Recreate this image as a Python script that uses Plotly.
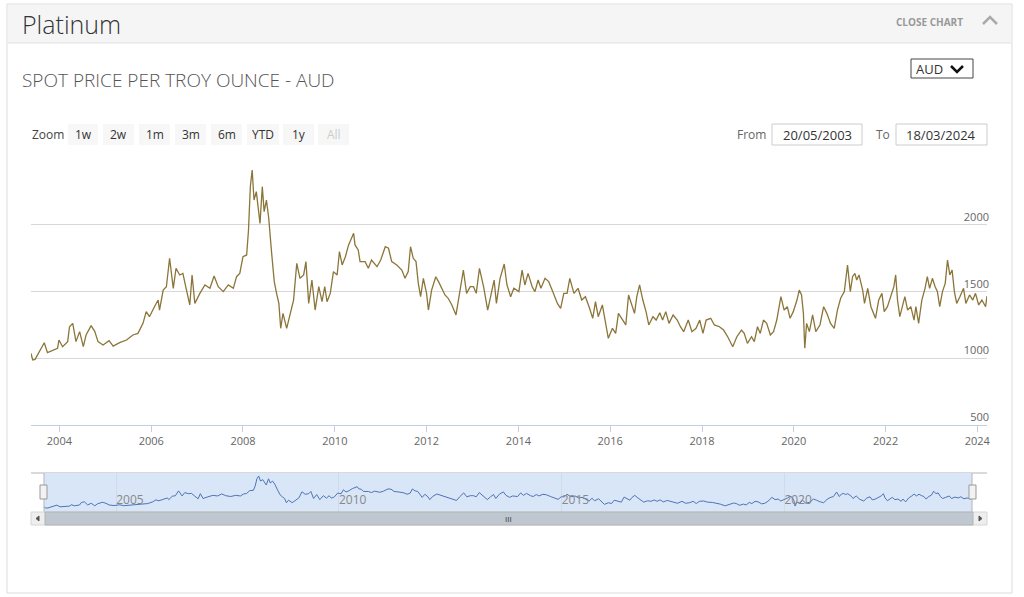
import pandas as pd
import plotly.graph_objects as go

W, H = 1024, 597

# spot price, AUD per troy ounce (decimal year, price)
years = [
    2003.38, 2003.42, 2003.47, 2003.56, 2003.67, 2003.74, 2003.86, 2003.96, 2003.99, 2004.07,
    2004.18, 2004.22, 2004.29, 2004.36, 2004.44, 2004.52, 2004.58, 2004.69, 2004.77, 2004.84,
    2004.95, 2005.08, 2005.17, 2005.31, 2005.46, 2005.60, 2005.71, 2005.82, 2005.89, 2005.96,
    2006.07, 2006.15, 2006.18, 2006.26, 2006.33, 2006.40, 2006.48, 2006.54, 2006.62, 2006.69,
    2006.76, 2006.84, 2006.89, 2006.95, 2007.06, 2007.17, 2007.28, 2007.37, 2007.46, 2007.57,
    2007.68, 2007.79, 2007.86, 2007.93, 2008.00, 2008.08, 2008.12, 2008.16, 2008.20, 2008.24,
    2008.29, 2008.37, 2008.42, 2008.46, 2008.51, 2008.56, 2008.62, 2008.68, 2008.73, 2008.78,
    2008.82, 2008.87, 2008.95, 2009.02, 2009.10, 2009.17, 2009.24, 2009.32, 2009.37, 2009.43,
    2009.50, 2009.57, 2009.65, 2009.72, 2009.78, 2009.83, 2009.90, 2009.97, 2010.05, 2010.10,
    2010.16, 2010.23, 2010.30, 2010.41, 2010.44, 2010.51, 2010.55, 2010.66, 2010.73, 2010.80,
    2010.92, 2011.00, 2011.10, 2011.17, 2011.24, 2011.35, 2011.46, 2011.53, 2011.60, 2011.65,
    2011.71, 2011.77, 2011.82, 2011.87, 2011.93, 2012.00, 2012.04, 2012.11, 2012.20, 2012.26,
    2012.33, 2012.40, 2012.47, 2012.55, 2012.64, 2012.71, 2012.80, 2012.87, 2012.95, 2013.02,
    2013.08, 2013.15, 2013.24, 2013.33, 2013.40, 2013.47, 2013.52, 2013.60, 2013.69, 2013.75,
    2013.83, 2013.90, 2014.01, 2014.08, 2014.14, 2014.21, 2014.30, 2014.36, 2014.43, 2014.49,
    2014.58, 2014.66, 2014.75, 2014.85, 2014.92, 2014.99, 2015.06, 2015.12, 2015.21, 2015.30,
    2015.38, 2015.46, 2015.54, 2015.62, 2015.68, 2015.74, 2015.83, 2015.89, 2015.96, 2016.05,
    2016.12, 2016.18, 2016.27, 2016.34, 2016.40, 2016.48, 2016.53, 2016.58, 2016.64, 2016.71,
    2016.78, 2016.84, 2016.93, 2017.00, 2017.08, 2017.14, 2017.21, 2017.28, 2017.37, 2017.46,
    2017.53, 2017.60, 2017.70, 2017.78, 2017.87, 2017.95, 2018.02, 2018.09, 2018.19, 2018.27,
    2018.38, 2018.47, 2018.56, 2018.67, 2018.76, 2018.86, 2018.92, 2018.99, 2019.08, 2019.14,
    2019.21, 2019.27, 2019.34, 2019.41, 2019.49, 2019.56, 2019.63, 2019.72, 2019.79, 2019.86,
    2019.92, 2019.99, 2020.07, 2020.12, 2020.17, 2020.21, 2020.24, 2020.28, 2020.34, 2020.41,
    2020.48, 2020.57, 2020.65, 2020.72, 2020.80, 2020.88, 2020.95, 2021.02, 2021.10, 2021.17,
    2021.23, 2021.28, 2021.33, 2021.37, 2021.42, 2021.50, 2021.54, 2021.61, 2021.68, 2021.78,
    2021.85, 2021.92, 2021.97, 2022.04, 2022.13, 2022.18, 2022.22, 2022.26, 2022.31, 2022.37,
    2022.42, 2022.48, 2022.55, 2022.62, 2022.66, 2022.72, 2022.79, 2022.86, 2022.91, 2022.96,
    2023.02, 2023.08, 2023.13, 2023.18, 2023.24, 2023.30, 2023.35, 2023.40, 2023.45, 2023.50,
    2023.55, 2023.62, 2023.70, 2023.75, 2023.83, 2023.90, 2023.96, 2024.03, 2024.10, 2024.18,
    2024.21,
]
price = [
    1037, 987, 992, 1050, 1117, 1042, 1062, 1075, 1137, 1087,
    1125, 1237, 1262, 1125, 1200, 1087, 1175, 1245, 1200, 1125,
    1100, 1132, 1092, 1117, 1137, 1175, 1187, 1262, 1350, 1312,
    1387, 1437, 1362, 1512, 1537, 1750, 1525, 1675, 1625, 1637,
    1525, 1400, 1625, 1412, 1487, 1550, 1525, 1617, 1537, 1500,
    1550, 1525, 1612, 1637, 1762, 1775, 1962, 2287, 2412, 2187,
    2250, 2012, 2287, 2100, 2187, 2050, 1800, 1575, 1487, 1412,
    1225, 1337, 1225, 1325, 1437, 1712, 1600, 1625, 1725, 1412,
    1587, 1362, 1537, 1425, 1537, 1425, 1487, 1650, 1625, 1800,
    1700, 1762, 1850, 1937, 1850, 1812, 1725, 1725, 1675, 1737,
    1687, 1737, 1837, 1825, 1725, 1700, 1662, 1600, 1650, 1837,
    1750, 1725, 1562, 1462, 1600, 1487, 1362, 1512, 1612, 1575,
    1525, 1475, 1450, 1400, 1325, 1487, 1662, 1487, 1537, 1537,
    1487, 1675, 1537, 1362, 1487, 1587, 1412, 1600, 1707, 1550,
    1462, 1525, 1500, 1662, 1550, 1637, 1537, 1500, 1587, 1525,
    1600, 1575, 1500, 1412, 1375, 1487, 1487, 1600, 1487, 1525,
    1437, 1462, 1387, 1300, 1425, 1312, 1400, 1287, 1150, 1225,
    1187, 1337, 1287, 1250, 1475, 1387, 1337, 1462, 1550, 1437,
    1350, 1250, 1312, 1287, 1342, 1287, 1350, 1262, 1325, 1287,
    1237, 1200, 1287, 1200, 1225, 1287, 1187, 1287, 1300, 1250,
    1237, 1212, 1162, 1087, 1162, 1212, 1187, 1112, 1162, 1125,
    1237, 1187, 1287, 1262, 1175, 1200, 1287, 1462, 1362, 1387,
    1300, 1350, 1437, 1512, 1475, 1337, 1075, 1262, 1200, 1325,
    1200, 1250, 1387, 1337, 1262, 1225, 1362, 1450, 1500, 1700,
    1500, 1612, 1637, 1587, 1625, 1512, 1412, 1525, 1387, 1300,
    1437, 1487, 1350, 1387, 1487, 1537, 1625, 1437, 1312, 1400,
    1462, 1362, 1387, 1287, 1387, 1262, 1437, 1525, 1612, 1525,
    1600, 1537, 1500, 1387, 1500, 1562, 1737, 1625, 1662, 1500,
    1412, 1462, 1525, 1412, 1475, 1437, 1487, 1400, 1437, 1387,
    1467,
]

start_date = "2003-05-20"
end_date = "2024-03-18"
zoom_buttons = ["1w", "2w", "1m", "3m", "6m", "YTD", "1y", "All"]


def to_date(y):
    yr = int(y)
    base = pd.Timestamp(year=yr, month=1, day=1)
    days = (pd.Timestamp(year=yr + 1, month=1, day=1) - base).days
    return base + pd.Timedelta(days=(y - yr) * days)


dates = [to_date(y) for y in years]


def px(x):
    return x / W


def py(y):
    return 1 - y / H


def rect(x0, y0, x1, y1, fill=None, line=None, lw=1, layer="below"):
    return dict(type="rect", xref="paper", yref="paper",
                x0=px(x0), x1=px(x1), y0=py(y1), y1=py(y0),
                fillcolor=fill or "rgba(0,0,0,0)",
                line=dict(color=line or "rgba(0,0,0,0)", width=lw if line else 0),
                layer=layer)


def path(pts, color, lw=1, fill=None, closed=False, layer="above"):
    d = "M " + " L ".join(f"{px(x):.5f},{py(y):.5f}" for x, y in pts)
    if closed:
        d += " Z"
    return dict(type="path", xref="paper", yref="paper", path=d,
                line=dict(color=color, width=lw),
                fillcolor=fill or "rgba(0,0,0,0)", layer=layer)


def text(x, y, s, size=12, color="#333", anchor="left", weight=None, family="Open Sans"):
    f = dict(size=size, color=color, family=family)
    if weight:
        f["weight"] = weight
    return dict(x=px(x), y=py(y), xref="paper", yref="paper", text=s,
                showarrow=False, xanchor=anchor, yanchor="middle", font=f,
                borderpad=0)


fig = go.Figure()

fig.add_trace(go.Scatter(x=dates, y=price, mode="lines",
                         line=dict(color="#8b7539", width=1.3),
                         xaxis="x", yaxis="y", hoverinfo="x+y"))
# invisible copy that carries the right-hand price labels
fig.add_trace(go.Scatter(x=dates, y=price, mode="lines",
                         line=dict(color="rgba(0,0,0,0)", width=0),
                         xaxis="x", yaxis="y3", hoverinfo="skip"))
fig.add_trace(go.Scatter(x=dates, y=price, mode="lines",
                         line=dict(color="#4f74b5", width=1),
                         xaxis="x2", yaxis="y2", hoverinfo="skip"))

shapes = [
    rect(7, 4, 1012, 593, fill="white", line="#dcdcdc"),
    rect(8, 5, 1011, 43, fill="#f5f5f5"),
    path([(8, 43), (1011, 43)], "#e0e0e0", 1, layer="below"),
    # close chart chevron
    path([(983, 24), (990, 17), (997, 24)], "#aaaaaa", 2.5),
    # currency dropdown
    rect(911, 59, 973, 78, fill="white", line="#444"),
    path([(951, 66), (957, 72), (963, 66)], "#111", 2.5),
    # from / to inputs
    rect(772, 124, 862, 145, fill="white", line="#cccccc"),
    rect(896, 124, 987, 145, fill="white", line="#cccccc"),
    # navigator
    path([(31, 473), (987, 473)], "#b5b5bb", 1, layer="below"),
    rect(44, 473, 972, 512, fill="#d8e6f7"),
    path([(44, 473), (44, 512)], "#b5b5bb", 1),
    path([(972, 473), (972, 512)], "#b5b5bb", 1),
    rect(40, 485, 47, 499, fill="#f2f2f2", line="#999999", layer="above"),
    rect(969, 485, 976, 499, fill="#f2f2f2", line="#999999", layer="above"),
    # scrollbar
    rect(31, 512, 987, 525, fill="#eeeeee", line="#d6d6d6", layer="above"),
    rect(45, 512, 973, 525, fill="#bfc7d0", line="#b4b4b4", layer="above"),
    path([(39, 516), (36, 518.5), (39, 521)], "#555", 1, fill="#555", closed=True),
    path([(979, 516), (982, 518.5), (979, 521)], "#555", 1, fill="#555", closed=True),
]

bx = [(68, 98), (103, 134), (139, 170), (175, 206), (211, 242), (247, 279), (283, 314), (318, 349)]
for x0, x1 in bx:
    shapes.append(rect(x0, 124, x1, 145, fill="#f7f7f7"))

annotations = [
    text(21, 24, "Platinum", size=25, color="#333", weight=300),
    text(895, 22, "CLOSE CHART", size=10, color="#999", weight="bold"),
    text(21, 80, "SPOT PRICE PER TROY OUNCE - AUD", size=19, color="#555", weight=300),
    text(915, 68.5, "AUD", size=13, color="#333"),
    text(31, 134.5, "Zoom", size=12, color="#444"),
    text(736, 134.5, "From", size=12, color="#666"),
    text(875, 134.5, "To", size=12, color="#666"),
    text(817, 134.5, start_date[8:] + "/" + start_date[5:7] + "/" + start_date[:4],
         size=13, color="#333", anchor="center"),
    text(941, 134.5, end_date[8:] + "/" + end_date[5:7] + "/" + end_date[:4],
         size=13, color="#333", anchor="center"),
    text(508, 518.5, "III", size=8, color="#333", anchor="center"),
]
for (x0, x1), lab in zip(bx, zoom_buttons):
    annotations.append(text((x0 + x1) / 2, 134.5, lab, size=12,
                            color="#cccccc" if lab == "All" else "#333",
                            anchor="center"))

fig.update_layout(
    width=W, height=H,
    margin=dict(l=0, r=0, t=0, b=0, pad=0),
    paper_bgcolor="white",
    plot_bgcolor="rgba(0,0,0,0)",
    showlegend=False,
    font=dict(family="Open Sans", size=11, color="#666"),
    shapes=shapes,
    annotations=annotations,
    xaxis=dict(
        domain=[px(31), px(987)], anchor="y",
        range=[start_date, end_date], type="date",
        tick0="2004-01-01", dtick="M24", tickformat="%Y",
        showgrid=False, zeroline=False,
        showline=True, linecolor="#c0d0e0", linewidth=1,
        ticks="outside", ticklen=6, tickcolor="#c0d0e0",
        tickfont=dict(size=11, color="#666"),
        automargin=False, fixedrange=True,
    ),
    yaxis=dict(
        domain=[py(425), py(160)], anchor="x",
        range=[500, 2487], dtick=500,
        showgrid=True, gridcolor="#d8d8d8", gridwidth=1,
        zeroline=False, showline=False, ticks="", showticklabels=False,
        automargin=False, fixedrange=True,
    ),
    yaxis3=dict(
        overlaying="y", anchor="free", position=px(989),
        range=[500, 2487], dtick=500, side="left",
        ticklabelposition="outside top",
        showgrid=False, zeroline=False, showline=False, ticks="",
        tickfont=dict(size=11, color="#666"),
        automargin=False, fixedrange=True,
    ),
    xaxis2=dict(
        domain=[px(44), px(972)], anchor="y2",
        range=[start_date, end_date], type="date",
        tick0="2005-01-01", dtick="M60", tickformat="%Y",
        ticklabelposition="inside right",
        showgrid=True, gridcolor="#cfdbea", gridwidth=1,
        zeroline=False, showline=False, ticks="",
        tickfont=dict(size=12, color="#888"),
        automargin=False, fixedrange=True,
    ),
    yaxis2=dict(
        domain=[py(512), py(473)], anchor="x2",
        range=[812, 2545], showgrid=False, zeroline=False,
        showticklabels=False, ticks="", showline=False,
        automargin=False, fixedrange=True,
    ),
)

fig.write_html("out.html",
               config=dict(displayModeBar=False),
               post_script="document.body.style.margin='0';document.body.style.overflow='hidden';")
